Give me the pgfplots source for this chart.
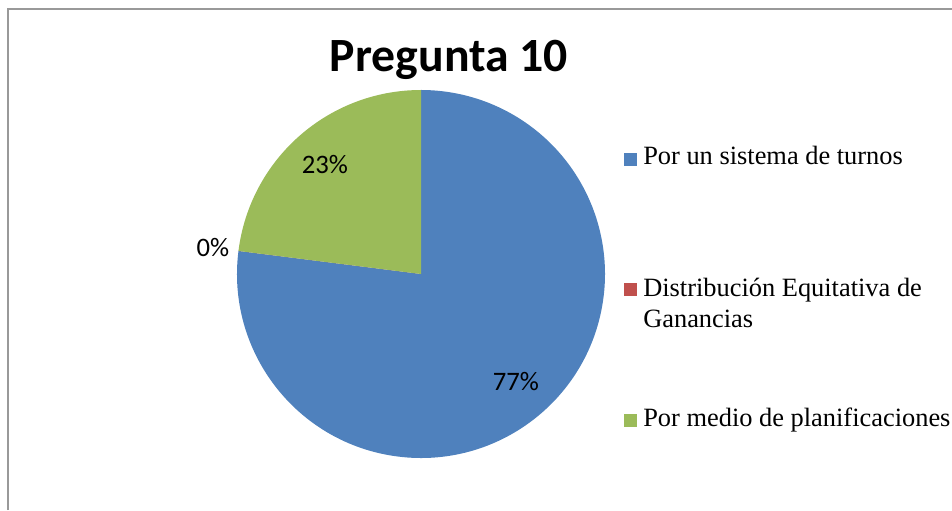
\documentclass[border=0pt]{standalone}
\usepackage{pgfplots}
\pgfplotsset{compat=1.18}
\usepackage{pgfplotstable}
\usepackage{fontspec}
\setmainfont{Liberation Serif}
\newfontfamily\calibri{Carlito}

\definecolor{sblue}{HTML}{4F81BD}
\definecolor{sred}{HTML}{C0504D}
\definecolor{sgreen}{HTML}{9BBB59}

% percentages of the three answers
\pgfplotstableread{
idx value
0 77
1 0
2 23
}\piedata

\begin{document}
\begin{tikzpicture}[x=0.75pt,y=0.75pt]
\pgfplotstablegetelem{0}{value}\of\piedata \let\vA\pgfplotsretval
\pgfplotstablegetelem{1}{value}\of\piedata \let\vB\pgfplotsretval
\pgfplotstablegetelem{2}{value}\of\piedata \let\vC\pgfplotsretval
% slices run clockwise from 12 o'clock
\pgfmathsetmacro\aA{90}
\pgfmathsetmacro\aB{\aA-3.6*\vA}
\pgfmathsetmacro\aC{\aB-3.6*\vB}
\pgfmathsetmacro\aD{\aC-3.6*\vC}
\pgfmathsetmacro\mA{(\aA+\aB)/2}
\pgfmathsetmacro\mB{(\aB+\aC)/2}
\pgfmathsetmacro\mC{(\aC+\aD)/2}
\useasboundingbox (0,0) rectangle (952,510);
% chart frame (cut off at right and bottom)
\draw[gray!80, line width=1pt] (8,0) -- (8,501) -- (952,501);

\node[anchor=base, font=\calibri\bfseries\fontsize{35.8}{42}\selectfont] at (449,438) {Pregunta 10};

\coordinate (pc) at (421,236);
\begin{axis}[
    at={(pc)}, anchor=center,
    scale only axis,
    width=276pt, height=276pt,
    xmin=-1, xmax=1, ymin=-1, ymax=1,
    hide axis,
    clip=false,
]
\fill[sblue]  (axis cs:0,0) -- (axis cs:{cos(\aB)},{sin(\aB)}) arc[start angle=\aB, end angle=\aA, radius=138pt] -- cycle;
\fill[sred]   (axis cs:0,0) -- (axis cs:{cos(\aC)},{sin(\aC)}) arc[start angle=\aC, end angle=\aB, radius=138pt] -- cycle;
\fill[sgreen] (axis cs:0,0) -- (axis cs:{cos(\aD)},{sin(\aD)}) arc[start angle=\aD, end angle=\aC, radius=138pt] -- cycle;

\node[font=\calibri\fontsize{20}{22}\selectfont] at (axis cs:{0.78*cos(\mA)},{0.78*sin(\mA)}) {77\%};
\node[font=\calibri\fontsize{20}{22}\selectfont] at (axis cs:{1.14*cos(\mB)},{1.14*sin(\mB)}) {0\%};
\node[font=\calibri\fontsize{20}{22}\selectfont] at (axis cs:{0.79*cos(\mC)},{0.79*sin(\mC)}) {23\%};
\end{axis}

% legend
\fill[sblue]  (624,344) rectangle (637,357);
\fill[sred]   (624,214) rectangle (637,227);
\fill[sgreen] (624,83)  rectangle (637,96);
\begin{scope}[every node/.style={anchor=base west, inner sep=0pt, font=\fontsize{19.8}{22.5}\selectfont}]
\node at (643,345) {Por un sistema de turnos};
\node at (643,213.3) {Distribución Equitativa de};
\node at (643,182) {Ganancias};
\node at (643,83.3) {Por medio de planificaciones};
\end{scope}
\end{tikzpicture}
\end{document}
